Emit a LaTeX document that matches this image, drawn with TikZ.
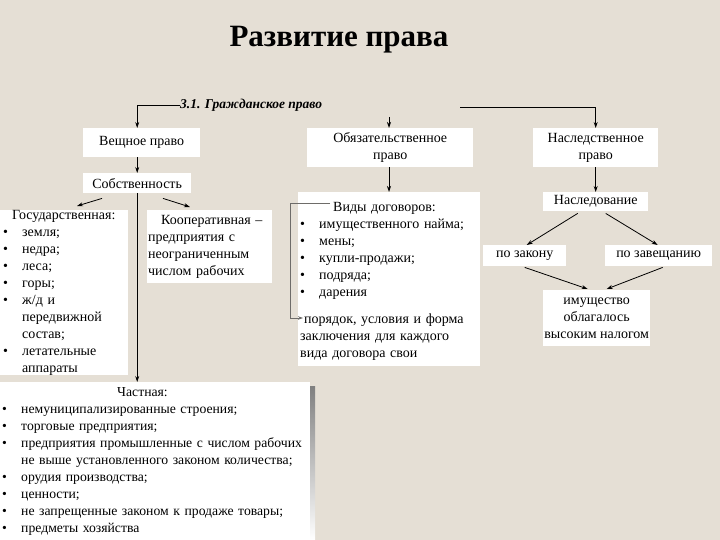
\documentclass[tikz,border=0pt]{standalone}
\usepackage{fontspec}
\setmainfont{Liberation Serif}
\usetikzlibrary{arrows.meta, positioning, calc}
\definecolor{paper}{RGB}{229,223,213}
\definecolor{shade}{RGB}{190,186,180}
\definecolor{frame}{RGB}{110,108,105}

\tikzset{
  box/.style={fill=white, inner sep=0pt, anchor=north west, font=\fontsize{14}{17}\selectfont},
  link/.style={-{Stealth[length=6pt,width=4pt]}, line width=0.8pt},
  bracket/.style={-{Stealth[length=5pt,width=3.5pt]}, line width=0.8pt, frame},
}
\newcommand{\bul}{\makebox[19pt][l]{\textbullet}}
\newcommand{\ind}{\hspace*{19pt}}

\begin{document}
\begin{tikzpicture}[x=1pt,y=-1pt]
			% background
			\fill[paper] (0,0) rectangle (720,540);
			\useasboundingbox (0,0) rectangle (720,540);
			% titles
			\node[font=\bfseries\fontsize{31}{36}\selectfont] (title) at (339,40) {Развитие права};
			\node[font=\bfseries\itshape\fontsize{13.5}{15}\selectfont, anchor=west, inner sep=0pt] (civil) at (180,105) {3.1. Гражданское право};
			% top level
			\node[box, minimum width=117pt, minimum height=29pt] (veshch) at (83,128) {Вещное право};
			\node[box, minimum width=166pt, minimum height=39pt, align=center] (obyaz) at (307,128) {Обязательственное\\право};
			\node[box, minimum width=125pt, minimum height=39pt, align=center] (nasl) at (533,128) {Наследственное\\право};
			% property branch
			\node[box, minimum width=108pt, minimum height=20pt] (sobst) at (83,173) {Собственность};
			\node[box, minimum height=165pt, inner xsep=3pt, text width=122pt, align=left] (gos) at (0,210)
				{\hspace*{9pt}Государственная:\\ \bul земля;\\ \bul недра;\\ \bul леса;\\ \bul горы;\\ \bul ж/д и\\ \ind передвижной\\ \ind состав;\\ \bul летательные\\ \ind аппараты};
			\node[box, minimum height=73pt, inner xsep=1pt, text width=123pt, align=left] (koop) at (147,210)
				{\hspace*{13pt}Кооперативная –\\ предприятия с\\ неограниченным\\ числом рабочих};
			\fill[shade] (310,386) rectangle (315,540);
			\node[box, font=\fontsize{13.7}{17}\selectfont, minimum height=158pt, inner xsep=2pt, text width=306pt, align=left] (chast) at (0,382)
				{\hspace*{115pt}Частная:\\ \bul немуниципализированные строения;\\ \bul торговые предприятия;\\
				 \bul предприятия промышленные с числом рабочих\\ \ind не выше установленного законом количества;\\
				 \bul орудия производства;\\ \bul ценности;\\ \bul не запрещенные законом к продаже товары;\\ \bul предметы хозяйства};
			% contracts branch
			\node[box, minimum height=118pt, inner xsep=2pt, text width=178pt, align=left] (vid) at (298,192)
				{\hspace*{33pt}Виды договоров:\\ \bul имущественного найма;\\ \bul мены;\\ \bul купли-продажи;\\ \bul подряда;\\ \bul дарения};
			\node[box, minimum height=58pt, inner xsep=2pt, text width=178pt, align=left] (poryad) at (298,308)
				{\hspace*{4pt}\makebox[174pt][s]{порядок, условия и форма}\\ \makebox[178pt][s]{заключения для каждого}\\ вида договора свои};
			% inheritance branch
			\node[box, minimum width=105pt, minimum height=19pt] (nasled) at (543,192) {Наследование};
			\node[box, minimum width=83pt, minimum height=21pt] (zakon) at (483,245) {по закону};
			\node[box, minimum width=107pt, minimum height=21pt] (zavesh) at (605,245) {по завещанию};
			\node[box, minimum width=107pt, minimum height=56pt, align=center] (imush) at (543,290) {имущество\\облагалось\\высоким налогом};
			% connectors
			\coordinate (split) at (460,107);
			\coordinate (stub) at (389,117);
			\draw[link] (civil.west) -- (sobst.north |- civil.west) -- (sobst.north |- veshch.north);
			\draw[link] (split) -| (nasl.north);
			\draw[link] (stub) -- (stub |- obyaz.north);
			\draw[link] (sobst.north |- veshch.south) -- (sobst.north);
			\draw[link] ([xshift=19pt,yshift=-5pt]sobst.south west) -- ([xshift=77pt,yshift=4pt]gos.north west);
			\draw[link] ([xshift=80pt,yshift=-5pt]sobst.south west) -- ([xshift=43pt,yshift=3pt]koop.north west);
			\draw[link] (sobst.south) -- (sobst.south |- chast.north);
			\draw[link] (obyaz.south -| stub) -- (stub |- vid.north);
			\draw[bracket] ([xshift=32pt,yshift=-11pt]vid.north west) -- ++(-40,0) |- ([xshift=5pt,yshift=-10pt]poryad.north west);
			\draw[link] (nasl.south) -- (nasled.north);
			\draw[link] ([xshift=-18pt,yshift=-2pt]nasled.south) -- ([xshift=2pt]zakon.north);
			\draw[link] ([xshift=10pt,yshift=-2pt]nasled.south) -- ([xshift=-1pt]zavesh.north);
			\draw[link] ([yshift=-1pt]zakon.south) -- ([xshift=-9pt,yshift=1pt]imush.north);
			\draw[link] ([xshift=4pt,yshift=-1pt]zavesh.south) -- ([xshift=10pt,yshift=1pt]imush.north);
		\end{tikzpicture}
\end{document}
